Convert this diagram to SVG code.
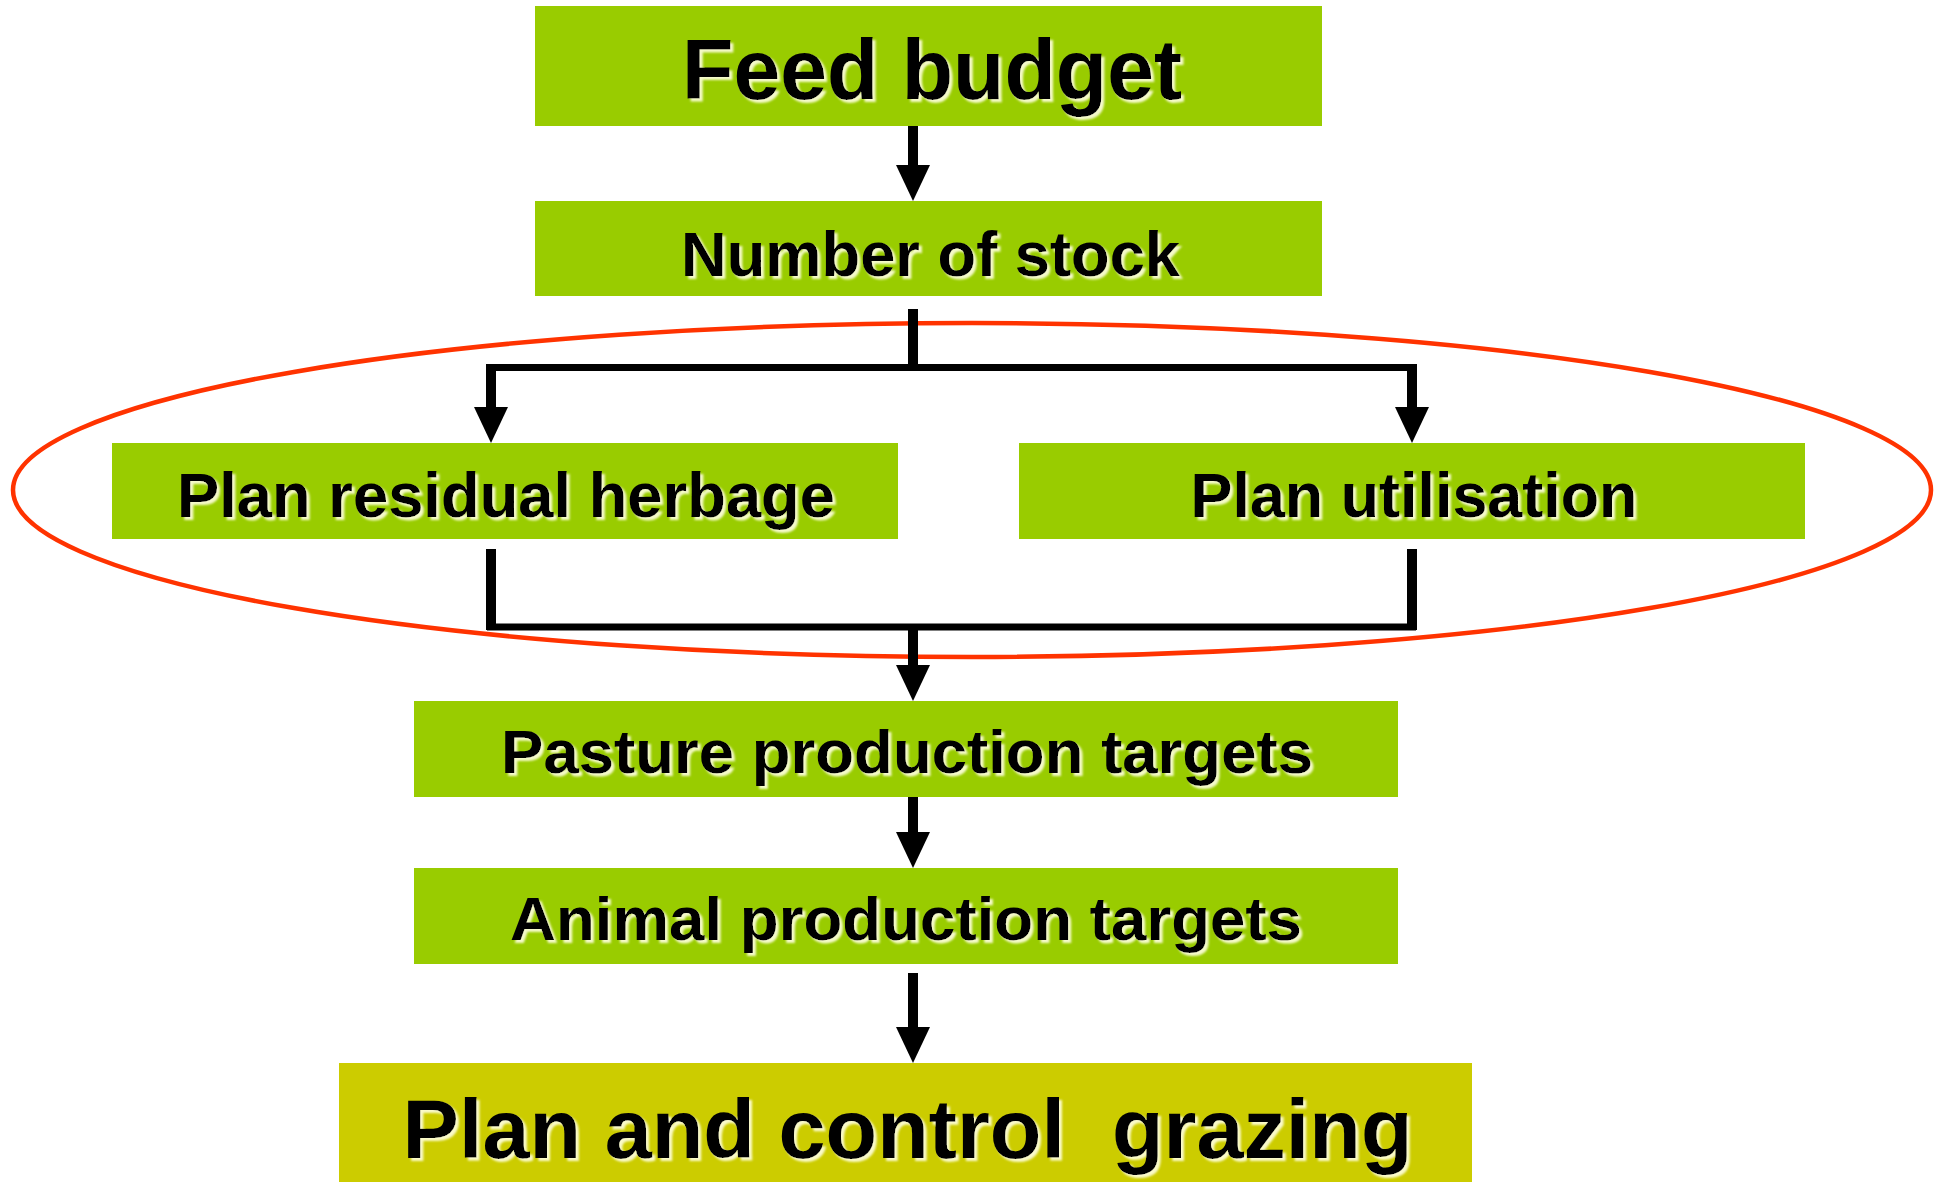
<svg xmlns="http://www.w3.org/2000/svg" width="1934" height="1182" viewBox="0 0 1934 1182">
  <style>
    .box { fill: #99CC00; }
    .box-final { fill: #CCCC00; }
    .label { font-family: "Liberation Sans", Arial, sans-serif; font-weight: bold; fill: #000; text-anchor: middle; filter: url(#glow); }
    .stem { fill: none; stroke: #000; stroke-width: 10; }
    .arrow { fill: none; stroke: #000; stroke-width: 10; marker-end: url(#head); }
    .bar { fill: none; stroke: #000; stroke-width: 7; }
    .ring { fill: none; stroke: #FF3300; stroke-width: 4.5; }
  </style>
  <defs>
    <marker id="head" viewBox="0 0 36 34" refX="6" refY="17" markerWidth="36" markerHeight="34" markerUnits="userSpaceOnUse" orient="auto">
      <path d="M0,0 L36,17 L0,34 Z" fill="#000"/>
    </marker>
    <filter id="glow" x="-5%" y="-20%" width="110%" height="150%">
      <feDropShadow dx="3" dy="3" stdDeviation="1.2" flood-color="#FFFFE0" flood-opacity="0.9"/>
    </filter>
  </defs>

  <rect width="1934" height="1182" fill="#FFFFFF"/>

  <!-- grouping ring around the two planning steps -->
  <ellipse class="ring" cx="972" cy="490" rx="959" ry="167"/>

  <g id="connectors">
    <path class="arrow" d="M913,126 V171"/>
    <path class="stem" d="M913,309 V368"/>
    <path class="bar" d="M487,367.5 H1416"/>
    <path class="arrow" d="M491,364 V413"/>
    <path class="arrow" d="M1412,364 V413"/>
    <path class="stem" d="M491,549 V630"/>
    <path class="stem" d="M1412,549 V630"/>
    <path class="bar" d="M487,627 H1416"/>
    <path class="arrow" d="M913,624 V671"/>
    <path class="arrow" d="M913,792 V838"/>
    <path class="arrow" d="M913,973 V1033"/>
  </g>

  <g id="feed-budget">
    <rect class="box" x="535" y="6" width="787" height="120"/>
    <text class="label" x="932" y="99" font-size="86" textLength="500" lengthAdjust="spacingAndGlyphs">Feed budget</text>
  </g>

  <g id="number-of-stock">
    <rect class="box" x="535" y="201" width="787" height="95"/>
    <text class="label" x="930.5" y="276" font-size="63.5" textLength="499" lengthAdjust="spacingAndGlyphs">Number of stock</text>
  </g>

  <g id="plan-residual-herbage">
    <rect class="box" x="112" y="443" width="786" height="96"/>
    <text class="label" x="506" y="517" font-size="63" textLength="658" lengthAdjust="spacingAndGlyphs">Plan residual herbage</text>
  </g>

  <g id="plan-utilisation">
    <rect class="box" x="1019" y="443" width="786" height="96"/>
    <text class="label" x="1414" y="517" font-size="63" textLength="447" lengthAdjust="spacingAndGlyphs">Plan utilisation</text>
  </g>

  <g id="pasture-production-targets">
    <rect class="box" x="414" y="701" width="984" height="96"/>
    <text class="label" x="907" y="773" font-size="62" textLength="812" lengthAdjust="spacingAndGlyphs">Pasture production targets</text>
  </g>

  <g id="animal-production-targets">
    <rect class="box" x="414" y="868" width="984" height="96"/>
    <text class="label" x="906" y="940" font-size="62" textLength="792" lengthAdjust="spacingAndGlyphs">Animal production targets</text>
  </g>

  <g id="plan-and-control-grazing">
    <rect class="box-final" x="339" y="1063" width="1133" height="119"/>
    <text class="label" x="907.6" y="1158" font-size="84" textLength="1010" lengthAdjust="spacingAndGlyphs" xml:space="preserve">Plan and control  grazing</text>
  </g>
</svg>
